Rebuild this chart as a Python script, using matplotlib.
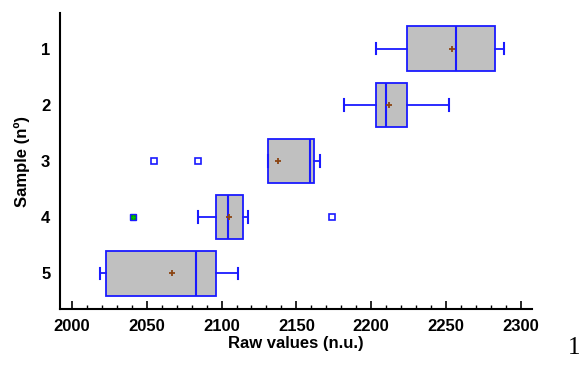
import matplotlib.pyplot as plt
from matplotlib.ticker import MultipleLocator

plt.rcParams['font.family'] = ['Liberation Sans', 'DejaVu Sans']

# Data
samples = ['1', '2', '3', '4', '5']
whis_lo = [2203, 2182, 2131, 2084, 2019]
q1 = [2224, 2203, 2131, 2096, 2023]
medians = [2257, 2210, 2159, 2104, 2083]
q3 = [2283, 2224, 2162, 2114, 2096]
whis_hi = [2289, 2252, 2166, 2118, 2111]
means = [2254, 2212, 2138, 2105, 2067]
outliers = [[], [], [2055, 2084], [2174], []]
far_outliers = [[], [], [], [2041], []]

stats = []
for i, s in enumerate(samples):
    stats.append(dict(label=s, whislo=whis_lo[i], q1=q1[i], med=medians[i],
                      q3=q3[i], whishi=whis_hi[i], mean=means[i],
                      fliers=outliers[i]))

fig = plt.figure(figsize=(5.86, 3.65), dpi=100)
ax = fig.add_axes([0.1024, 0.1534, 0.8054, 0.811])

blue = '#1a1aff'
pos = list(range(1, len(samples) + 1))
ax.bxp(stats, positions=pos, vert=False, widths=0.8, capwidths=0.2,
       patch_artist=True, showmeans=True,
       boxprops=dict(facecolor='#c0c0c0', edgecolor=blue, linewidth=1.3),
       medianprops=dict(color=blue, linewidth=1.5),
       whiskerprops=dict(color=blue, linewidth=1.3),
       capprops=dict(color=blue, linewidth=1.5),
       meanprops=dict(marker='+', markeredgecolor='#8b4513', markersize=5,
                      markeredgewidth=1.3),
       flierprops=dict(marker='s', markerfacecolor='white', markeredgecolor=blue,
                       markersize=4, markeredgewidth=1.2))

for i, vals in enumerate(far_outliers):
    for v in vals:
        ax.plot(v, pos[i], marker='s', markersize=4.5, markerfacecolor='#00a000',
                markeredgecolor=blue, markeredgewidth=1.0, linestyle='none')
        ax.plot(v, pos[i], marker='+', markersize=3, markeredgecolor='#00c000',
                markeredgewidth=0.8, linestyle='none')

ax.set_xlim(1992, 2307.5)
ax.set_ylim(5.64, 0.36)
ax.set_yticks(pos)
ax.set_yticklabels(samples)
ax.xaxis.set_major_locator(MultipleLocator(50))
ax.xaxis.set_minor_locator(MultipleLocator(10))

for sp in ['top', 'right']:
    ax.spines[sp].set_visible(False)
ax.spines['left'].set_linewidth(1.5)
ax.spines['bottom'].set_linewidth(1.5)

ax.tick_params(axis='x', which='major', direction='in', length=6, width=1.2,
               labelsize=12, pad=7)
ax.tick_params(axis='x', which='minor', direction='in', length=3, width=1.0)
ax.tick_params(axis='y', length=0, labelsize=12, pad=7)
for lbl in ax.get_xticklabels() + ax.get_yticklabels():
    lbl.set_fontweight('bold')

ax.set_xlabel('Raw values (n.u.)', fontsize=12, fontweight='bold', labelpad=1.5)
ax.set_ylabel('Sample (nº)', fontsize=12, fontweight='bold', labelpad=8)

fig.text(0.99, 0.03, '1', fontsize=18, family='Liberation Serif',
         ha='right', va='baseline')

fig.savefig('out.png', dpi=100)
